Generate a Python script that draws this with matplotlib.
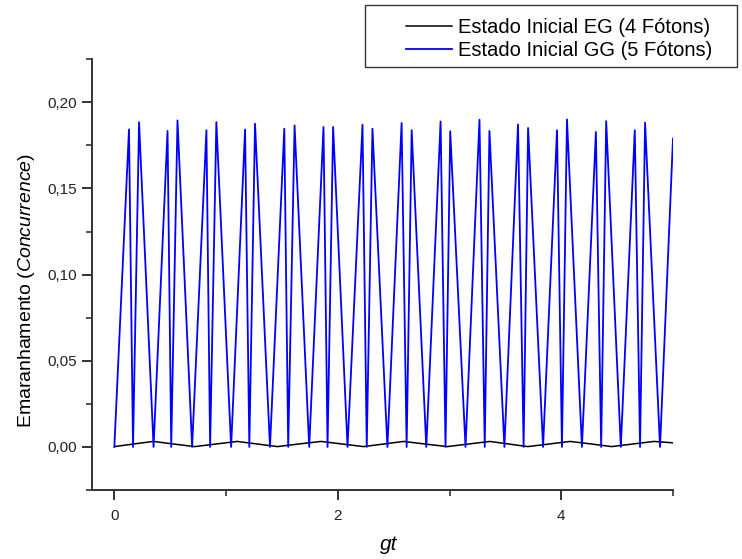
import numpy as np
import matplotlib
matplotlib.use('Agg')
import matplotlib.pyplot as plt
from matplotlib.ticker import MultipleLocator, FuncFormatter
from matplotlib.patches import Rectangle

plt.rcParams['font.family'] = ['Liberation Sans', 'DejaVu Sans']
plt.rcParams['mathtext.fontset'] = 'custom'
plt.rcParams['mathtext.rm'] = 'Liberation Sans'
plt.rcParams['mathtext.it'] = 'Liberation Sans:italic'

# Estado inicial GG (5 fotons): zeros e picos
gt_gg = [0.0,
         0.131, 0.167, 0.221, 0.351,
         0.476, 0.509, 0.565, 0.696,
         0.824, 0.857, 0.913, 1.045,
         1.170, 1.208, 1.259, 1.393,
         1.521, 1.556, 1.613, 1.744,
         1.872, 1.908, 1.958, 2.087,
         2.221, 2.259, 2.310, 2.444,
         2.571, 2.616, 2.661, 2.792,
         2.920, 2.964, 3.006, 3.143,
         3.268, 3.315, 3.357, 3.491,
         3.613, 3.663, 3.703, 3.837,
         3.962, 4.006, 4.051, 4.185,
         4.310, 4.357, 4.402, 4.533,
         4.658, 4.705, 4.750, 4.884,
         5.0]
conc_gg = [0.0,
           0.1843, 0.0, 0.1885, 0.0,
           0.1834, 0.0, 0.1895, 0.0,
           0.1838, 0.0, 0.1885, 0.0,
           0.1842, 0.0, 0.1876, 0.0,
           0.1847, 0.0, 0.1866, 0.0,
           0.1857, 0.0, 0.1857, 0.0,
           0.1870, 0.0, 0.1847, 0.0,
           0.1880, 0.0, 0.1838, 0.0,
           0.1889, 0.0, 0.1832, 0.0,
           0.1899, 0.0, 0.1834, 0.0,
           0.1872, 0.0, 0.1851, 0.0,
           0.1838, 0.0, 0.1901, 0.0,
           0.1828, 0.0, 0.1891, 0.0,
           0.1838, 0.0, 0.1882, 0.0,
           0.179]

# Estado inicial EG (4 fotons)
gt_eg = [0.0, 0.17, 0.35, 0.53, 0.72, 0.91, 1.10, 1.28, 1.46, 1.65, 1.85,
         2.04, 2.23, 2.41, 2.59, 2.78, 2.98, 3.17, 3.36, 3.53, 3.70, 3.89,
         4.08, 4.27, 4.45, 4.64, 4.83, 5.0]
conc_eg = [0.0002, 0.0017, 0.0032, 0.0017, 0.0002, 0.0017, 0.0032, 0.0017,
           0.0002, 0.0017, 0.0032, 0.0017, 0.0002, 0.0017, 0.0032, 0.0017,
           0.0002, 0.0017, 0.0032, 0.0017, 0.0002, 0.0017, 0.0032, 0.0017,
           0.0002, 0.0017, 0.0032, 0.0024]

labels = ['Estado Inicial EG (4 Fótons)', 'Estado Inicial GG (5 Fótons)']

fig = plt.figure(figsize=(7.42, 5.59), dpi=100)
ax = fig.add_axes([0.124, 0.1234, 0.783, 0.7706])

l1, = ax.plot(gt_eg, conc_eg, color='black', lw=1.1)
l2, = ax.plot(gt_gg, conc_gg, color='#0000ff', lw=1.3)

ax.set_xlim(-0.2, 5.0)
ax.set_ylim(-0.025, 0.225)

for s in ['top', 'right']:
    ax.spines[s].set_visible(False)
for s in ['left', 'bottom']:
    ax.spines[s].set_linewidth(1.4)
    ax.spines[s].set_color('#333333')

ax.xaxis.set_major_locator(MultipleLocator(2))
ax.xaxis.set_minor_locator(MultipleLocator(1))
ax.yaxis.set_major_locator(MultipleLocator(0.05))
ax.yaxis.set_minor_locator(MultipleLocator(0.025))
ax.yaxis.set_major_formatter(FuncFormatter(lambda v, p: ('%.2f' % v).replace('.', ',')))
ax.tick_params(which='major', length=7, width=1.4, color='#333333', labelsize=11,
               labelcolor='#222222', direction='out')
ax.tick_params(axis='x', which='major', pad=7)
ax.tick_params(which='minor', length=4, width=1.2, color='#333333', direction='out')

ax.set_xlabel('gt', fontsize=15, fontstyle='italic')
ax.xaxis.set_label_coords(0.51, -0.105)
ax.set_ylabel(r'Emaranhamento ($\mathit{Concurrence}$)', fontsize=14)
ax.yaxis.set_label_coords(-0.095, 0.464)

leg = fig.legend([l1, l2], labels, loc='upper left', bbox_to_anchor=(0.525, 0.996),
                 frameon=False, fontsize=14.5, handlelength=2.3, handletextpad=0.3,
                 labelspacing=0.2, borderpad=0.3)
fig.patches.append(Rectangle((0.492, 0.880), 0.501, 0.111, transform=fig.transFigure,
                             fill=False, edgecolor='#333333', lw=1.0))

fig.savefig('out.png', dpi=100)
